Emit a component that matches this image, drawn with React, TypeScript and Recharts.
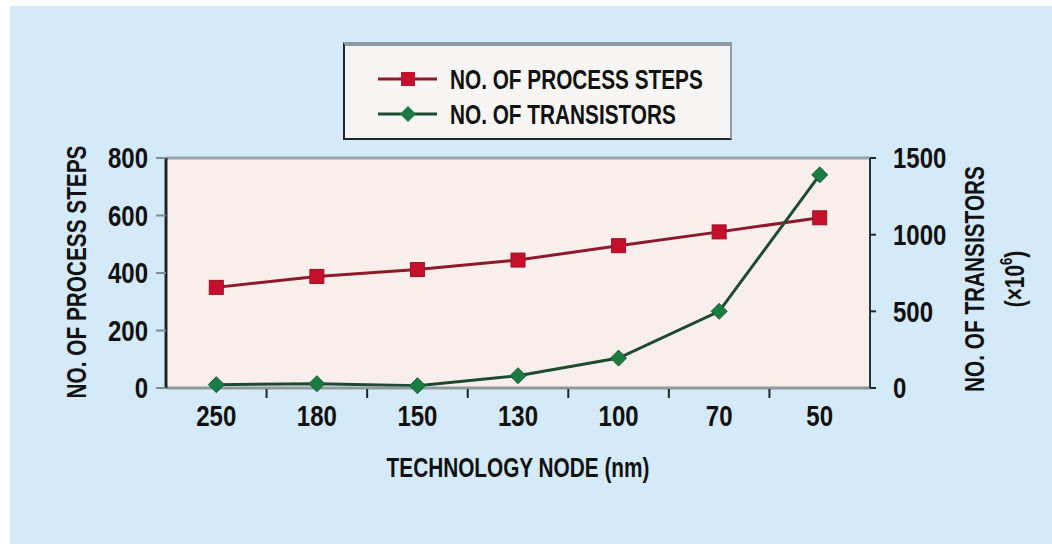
import React from 'react';
import {
  LineChart,
  Line,
  XAxis,
  YAxis,
  CartesianGrid,
  ReferenceLine,
  Legend,
  Label,
} from 'recharts';

// Technology nodes (nm) and the two series
const nodes = ['250', '180', '150', '130', '100', '70', '50'];
const processSteps = [350, 388, 412, 445, 495, 543, 592];
const transistors = [22, 28, 15, 80, 195, 500, 1390];
const stepTicks = [0, 200, 400, 600, 800];
const transistorTicks = [0, 500, 1000, 1500];

const data = nodes.map((node, i) => ({
  node,
  steps: processSteps[i],
  transistors: transistors[i],
}));

// no narrow font installed, so squeeze Liberation Sans Bold sideways
const FONT = "'Liberation Sans', Arial, sans-serif";
const RED_LINE = '#8c1a2b';
const RED_MARK = '#c5102c';
const GREEN_LINE = '#1f4a32';
const GREEN_MARK = '#1b7d44';
const BAND = 704 / nodes.length;

const Narrow = ({ x, y, size, squeeze = 0.77, anchor = 'middle', rotate = 0, children }: any) => (
  <text
    transform={`translate(${x} ${y}) rotate(${rotate}) scale(${squeeze} 1)`}
    textAnchor={anchor}
    dominantBaseline="central"
    fontFamily={FONT}
    fontWeight="bold"
    fontSize={size}
    fill="#111"
  >
    {children}
  </text>
);

const Square = (props: any) => {
  const { cx, cy, index } = props;
  return <rect key={`sq-${index}`} x={cx - 7} y={cy - 7} width={14} height={14} fill={RED_MARK} stroke="#9c0f25" strokeWidth={1} />;
};

const Diamond = (props: any) => {
  const { cx, cy, index } = props;
  return (
    <path
      key={`dm-${index}`}
      d={`M${cx},${cy - 8} L${cx + 8},${cy} L${cx},${cy + 8} L${cx - 8},${cy} Z`}
      fill={GREEN_MARK}
      stroke="#145c32"
      strokeWidth={1}
    />
  );
};

const NodeTick = (props: any) => {
  const { x, y, payload, index } = props;
  return (
    <g>
      {index > 0 && (
        <line x1={x - BAND / 2} y1={y + 1} x2={x - BAND / 2} y2={y + 10} stroke="#1d262d" strokeWidth={2} />
      )}
      <Narrow x={x} y={y + 28} size={30} squeeze={0.8}>{payload.value}</Narrow>
    </g>
  );
};

const LeftTick = (props: any) => {
  const { x, y, payload } = props;
  return <Narrow x={x} y={y} size={30} squeeze={0.8} anchor="end">{payload.value}</Narrow>;
};

const RightTick = (props: any) => {
  const { x, y, payload } = props;
  return <Narrow x={x} y={y} size={30} squeeze={0.8} anchor="start">{payload.value}</Narrow>;
};

const renderLegend = () => {
  const rows = [
    { name: 'NO. OF PROCESS STEPS', line: RED_LINE, mark: 'square', y: 33 },
    { name: 'NO. OF TRANSISTORS', line: GREEN_LINE, mark: 'diamond', y: 68 },
  ];
  return (
    <div
      style={{
        width: 389,
        height: 98,
        background: '#f7f5f3',
        borderLeft: '2px solid #1f262c',
        borderBottom: '2px solid #1f262c',
        borderTop: '4px solid #8f9aa2',
        borderRight: '2px solid #8f9aa2',
        boxSizing: 'border-box',
      }}
    >
      <svg width={385} height={92} style={{ display: 'block' }}>
        {rows.map((r) => (
          <g key={r.name}>
            <line x1={33} y1={r.y} x2={92} y2={r.y} stroke={r.line} strokeWidth={3} />
            {r.mark === 'square' ? (
              <rect x={56} y={r.y - 7} width={14} height={14} fill={RED_MARK} />
            ) : (
              <path d={`M63,${r.y - 8} L71,${r.y} L63,${r.y + 8} L55,${r.y} Z`} fill={GREEN_MARK} />
            )}
            <Narrow x={105} y={r.y} size={27} anchor="start">{r.name}</Narrow>
          </g>
        ))}
      </svg>
    </div>
  );
};

export default function App() {
  return (
    <div style={{ position: 'absolute', left: 0, top: 0, width: 1052, height: 544, background: '#fff' }}>
      <div style={{ position: 'absolute', left: 10, top: 6, width: 1042, height: 538, background: '#d5eaf8' }} />
      <div style={{ position: 'absolute', left: 0, top: 0 }}>
        <LineChart
          width={1052}
          height={544}
          data={data}
          margin={{ top: 158, right: 82, bottom: 96, left: 66 }}
        >
          <CartesianGrid horizontal={false} vertical={false} fill="#f8efed" />
          <XAxis
            dataKey="node"
            height={60}
            padding={{ left: BAND / 2, right: BAND / 2 }}
            tick={<NodeTick />}
            tickLine={false}
            tickSize={0}
            tickMargin={0}
            axisLine={{ stroke: '#8d99a1', strokeWidth: 3 }}
            interval={0}
          >
            <Label
              content={(p: any) => {
                const { x, y, width } = p.viewBox;
                return <Narrow x={x + width / 2} y={y + 79} size={27}>TECHNOLOGY NODE (nm)</Narrow>;
              }}
            />
          </XAxis>
          <YAxis
            yAxisId="left"
            width={100}
            domain={[0, 800]}
            ticks={stepTicks}
            interval={0}
            tickSize={10}
            tickMargin={8}
            tickLine={{ stroke: '#7f8b93', strokeWidth: 2 }}
            axisLine={{ stroke: '#1d262d', strokeWidth: 3 }}
            tick={<LeftTick />}
          >
            <Label
              content={(p: any) => {
                const { x, y, height } = p.viewBox;
                return <Narrow x={x + 10} y={y + height / 2 - 1} size={27} rotate={-90}>NO. OF PROCESS STEPS</Narrow>;
              }}
            />
          </YAxis>
          <YAxis
            yAxisId="right"
            orientation="right"
            width={100}
            domain={[0, 1500]}
            ticks={transistorTicks}
            interval={0}
            tickSize={6}
            tickMargin={17}
            tickLine={{ stroke: '#1d262d', strokeWidth: 2 }}
            axisLine={{ stroke: '#2b333a', strokeWidth: 2 }}
            tick={<RightTick />}
          >
            <Label
              content={(p: any) => {
                const { x, y, height } = p.viewBox;
                const cy = y + height / 2 + 6;
                return (
                  <g>
                    <Narrow x={x + 104} y={cy} size={27} rotate={-90}>NO. OF TRANSISTORS</Narrow>
                    <Narrow x={x + 144} y={cy} size={27} rotate={-90}>
                      (×10<tspan dy={-9} fontSize={17}>6</tspan><tspan dy={9}>)</tspan>
                    </Narrow>
                  </g>
                );
              }}
            />
          </YAxis>
          <ReferenceLine yAxisId="left" y={800} stroke="#97a3ab" strokeWidth={3} />
          <Legend
            layout="vertical"
            align="center"
            verticalAlign="middle"
            content={renderLegend}
            wrapperStyle={{ position: 'absolute', left: 343, top: 42, width: 389, height: 98 }}
          />
          <Line
            yAxisId="left"
            dataKey="steps"
            name="NO. OF PROCESS STEPS"
            stroke={RED_LINE}
            strokeWidth={3}
            dot={<Square />}
            isAnimationActive={false}
          />
          <Line
            yAxisId="right"
            dataKey="transistors"
            name="NO. OF TRANSISTORS"
            stroke={GREEN_LINE}
            strokeWidth={3}
            dot={<Diamond />}
            isAnimationActive={false}
          />
        </LineChart>
      </div>
    </div>
  );
}
